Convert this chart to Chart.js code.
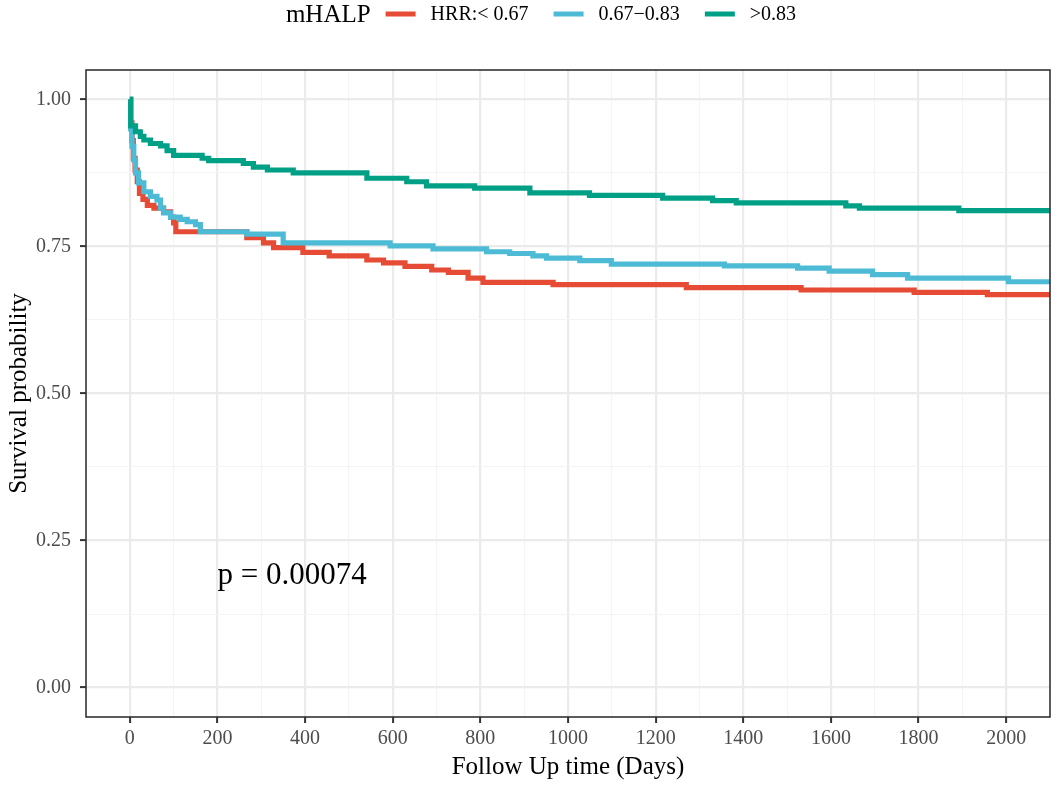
<!DOCTYPE html>
<html>
<head>
<meta charset="utf-8">
<script src="https://cdn.jsdelivr.net/npm/chart.js@4/dist/chart.umd.min.js"></script>
<style>
html,body{margin:0;padding:0;background:#fff;}
#wrap{width:1056px;height:785px;position:relative;}
</style>
</head>
<body>
<div id="wrap"><canvas id="c" width="1056" height="785"></canvas></div>
<script>
// ---- Data ----
const groupNames = ["HRR:< 0.67", "0.67\u22120.83", ">0.83"];
const legendTitle = "mHALP";
const colors = ["#E64B35", "#4DBBD5", "#00A087"];

const lowTime = [0, 2, 5, 8, 12, 17, 22, 30, 40, 55, 77, 93, 100, 105, 267, 305, 328, 395, 455, 541, 579, 628, 689, 727, 772, 806, 966, 1270, 1532, 1790, 1957, 2100];
const lowSurv = [1.0, 0.96, 0.93, 0.90, 0.88, 0.86, 0.84, 0.83, 0.82, 0.815, 0.809, 0.80, 0.79, 0.775, 0.765, 0.756, 0.748, 0.740, 0.734, 0.727, 0.722, 0.716, 0.710, 0.706, 0.696, 0.689, 0.685, 0.680, 0.676, 0.672, 0.668, 0.668];

const midTime = [0, 2, 5, 9, 13, 20, 32, 47, 62, 70, 77, 93, 115, 131, 150, 161, 267, 350, 594, 692, 814, 867, 920, 951, 1027, 1099, 1357, 1524, 1596, 1695, 1775, 2005, 2100];
const midSurv = [1.0, 0.95, 0.92, 0.897, 0.875, 0.858, 0.843, 0.835, 0.829, 0.815, 0.807, 0.80, 0.796, 0.792, 0.787, 0.775, 0.771, 0.756, 0.751, 0.746, 0.741, 0.738, 0.734, 0.730, 0.726, 0.720, 0.717, 0.713, 0.708, 0.702, 0.696, 0.690, 0.690];

const highTime = [0, 2, 13, 24, 32, 47, 70, 85, 100, 165, 180, 259, 282, 314, 373, 541, 632, 677, 787, 913, 1049, 1216, 1330, 1384, 1634, 1665, 1892, 2100];
const highSurv = [1.0, 0.955, 0.945, 0.937, 0.931, 0.925, 0.921, 0.913, 0.905, 0.900, 0.896, 0.891, 0.885, 0.880, 0.875, 0.866, 0.860, 0.853, 0.849, 0.841, 0.837, 0.832, 0.828, 0.824, 0.819, 0.815, 0.811, 0.811];

const xTickValues = [0,100,200,300,400,500,600,700,800,900,1000,1100,1200,1300,1400,1500,1600,1700,1800,1900,2000];
const xLabelEvery = 200;
const yTickValues = [0, 0.125, 0.25, 0.375, 0.5, 0.625, 0.75, 0.875, 1.0];
const pText = "p = 0.00074";
const pPos = {x: 200, y: 0.19};
const xTitle = "Follow Up time (Days)";
const yTitle = "Survival probability";

// ---- Build datasets ----
function pts(t, s){ return t.map((v,i)=>({x:v, y:s[i]})); }
const series = [pts(lowTime, lowSurv), pts(midTime, midSurv), pts(highTime, highSurv)];

const FONT = "'Liberation Serif', 'Times New Roman', serif";

const isMajorX = v => Math.abs(v % xLabelEvery) < 1e-9;
const isMajorY = v => Math.abs((v*4) - Math.round(v*4)) < 1e-9;

const legendPlugin = {
  id: 'customLegend',
  afterDraw(chart){
    const ctx = chart.ctx;
    ctx.save();
    const y = 15;
    ctx.textBaseline = 'middle';
    ctx.font = "25px " + FONT;
    const tw = ctx.measureText(legendTitle).width;
    ctx.font = "20px " + FONT;
    const lw = groupNames.map(n => ctx.measureText(n).width);
    const keyW = 30, g1 = 15, g2 = 15, g3 = 25;
    let total = tw + g1;
    lw.forEach((w,i)=>{ total += keyW + g2 + w + (i<lw.length-1 ? g3 : 0); });
    let x = 541 - total/2;
    ctx.fillStyle = '#000';
    ctx.font = "25px " + FONT;
    ctx.textAlign = 'left';
    ctx.fillText(legendTitle, x, y);
    x += tw + g1;
    ctx.font = "20px " + FONT;
    groupNames.forEach((n,i)=>{
      ctx.strokeStyle = colors[i];
      ctx.lineWidth = 5;
      ctx.beginPath();
      ctx.moveTo(x, y - 1);
      ctx.lineTo(x+keyW, y - 1);
      ctx.stroke();
      x += keyW + g2;
      ctx.fillStyle = '#000';
      ctx.fillText(n, x, y);
      x += lw[i] + g3;
    });
    ctx.restore();
  }
};

const framePlugin = {
  id: 'frame',
  afterDatasetsDraw(chart){
    const {ctx, chartArea:a, scales} = chart;
    ctx.save();
    // p-value label
    ctx.font = "31px " + FONT;
    ctx.fillStyle = '#000';
    ctx.textAlign = 'left';
    ctx.textBaseline = 'middle';
    ctx.fillText(pText, scales.x.getPixelForValue(pPos.x), scales.y.getPixelForValue(pPos.y));
    // panel border
    ctx.strokeStyle = '#333333';
    ctx.lineWidth = 1.6;
    ctx.strokeRect(a.left, a.top, a.right - a.left, a.bottom - a.top);
    ctx.restore();
  }
};

new Chart(document.getElementById('c'), {
  type: 'line',
  data: {
    datasets: series.map((d,i)=>({
      label: groupNames[i],
      data: d,
      borderColor: colors[i],
      backgroundColor: colors[i],
      borderWidth: 5.2,
      pointRadius: 0,
      pointHoverRadius: 0,
      stepped: true,
      fill: false,
      tension: 0,
      order: 3 - i
    }))
  },
  plugins: [legendPlugin, framePlugin],
  options: {
    responsive: false,
    animation: false,
    devicePixelRatio: 1,
    layout: { padding: { top: 70, left: 0, right: 6, bottom: 0 } },
    plugins: { legend: { display: false }, tooltip: { enabled: false } },
    scales: {
      x: {
        type: 'linear',
        min: -100, max: 2100,
        afterBuildTicks: s => { s.ticks = xTickValues.map(v => ({value: v})); },
        afterFit: s => { s.height = 68; },
        ticks: {
          autoSkip: false, maxRotation: 0, minRotation: 0,
          padding: 4,
          color: '#4D4D4D',
          font: { family: FONT, size: 20 },
          callback: v => isMajorX(v) ? String(v) : ''
        },
        grid: {
          color: c => (c.tick && isMajorX(c.tick.value)) ? '#EBEBEB' : '#F4F4F4',
          lineWidth: c => (c.tick && isMajorX(c.tick.value)) ? 2.2 : 1.1,
          drawTicks: true,
          tickLength: 6,
          tickColor: c => (c.tick && isMajorX(c.tick.value)) ? '#333333' : 'rgba(0,0,0,0)',
          tickWidth: 2
        },
        border: { display: false },
        title: {
          display: true, text: xTitle, color: '#000',
          font: { family: FONT, size: 25 },
          padding: { top: 0, bottom: 3 }
        }
      },
      y: {
        type: 'linear',
        min: -0.05, max: 1.05,
        afterBuildTicks: s => { s.ticks = yTickValues.map(v => ({value: v})); },
        afterFit: s => { s.width = 86; },
        ticks: {
          padding: 9,
          color: '#4D4D4D',
          font: { family: FONT, size: 20 },
          callback: v => isMajorY(v) ? v.toFixed(2) : ''
        },
        grid: {
          color: c => (c.tick && isMajorY(c.tick.value)) ? '#EBEBEB' : '#F4F4F4',
          lineWidth: c => (c.tick && isMajorY(c.tick.value)) ? 2.2 : 1.1,
          drawTicks: true,
          tickLength: 6,
          tickColor: c => (c.tick && isMajorY(c.tick.value)) ? '#333333' : 'rgba(0,0,0,0)',
          tickWidth: 2
        },
        border: { display: false },
        title: {
          display: true, text: yTitle, color: '#000',
          font: { family: FONT, size: 25 },
          padding: { top: 4, bottom: 0 }
        }
      }
    }
  }
});
</script>
</body>
</html>
